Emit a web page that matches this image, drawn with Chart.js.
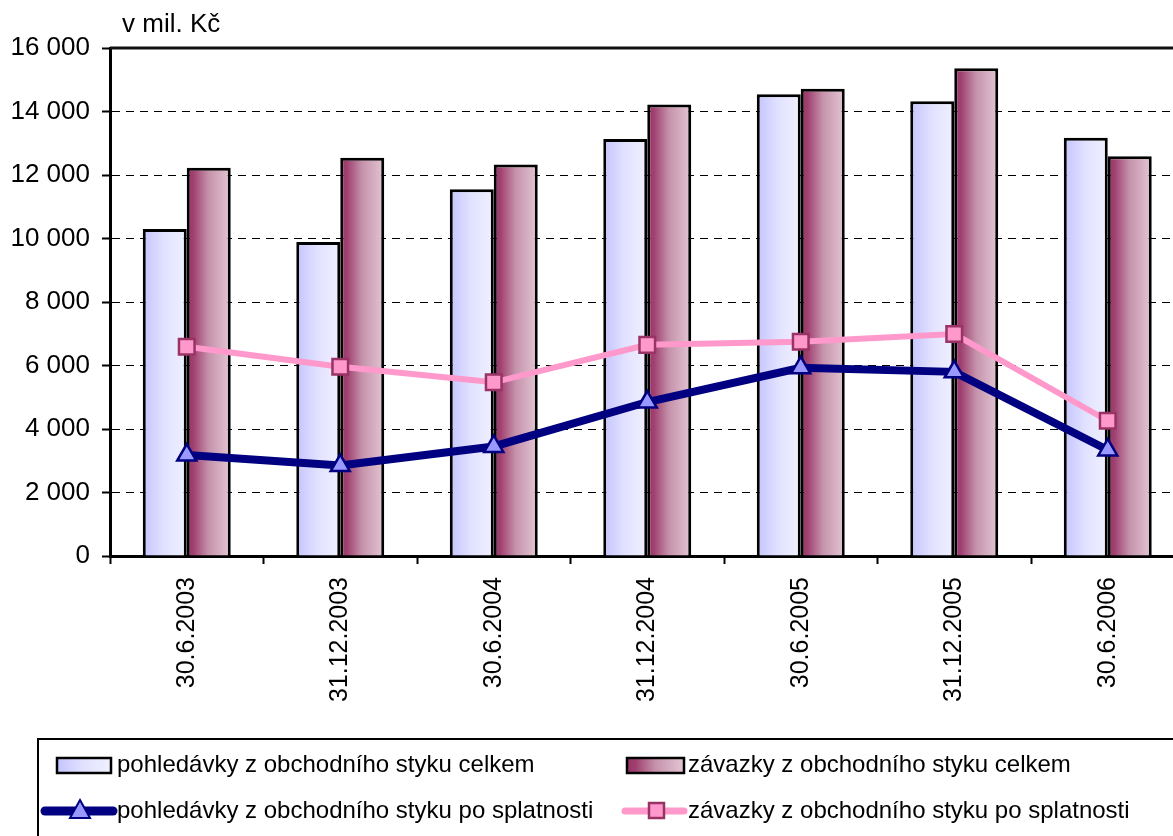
<!DOCTYPE html>
<html>
<head>
<meta charset="utf-8">
<script src="https://cdn.jsdelivr.net/npm/chart.js@4/dist/chart.umd.min.js"></script>
<style>
  html, body { margin: 0; padding: 0; background: #fff; overflow: hidden; }
  #wrap { width: 1200px; height: 836px; }
</style>
</head>
<body>
<div id="wrap"><canvas id="chart" width="1200" height="836"></canvas></div>
<script>
const categories = ['30.6.2003', '31.12.2003', '30.6.2004', '31.12.2004', '30.6.2005', '31.12.2005', '30.6.2006'];
const receivablesTotal = [10300, 9890, 11550, 13130, 14540, 14320, 13170];
const payablesTotal = [12230, 12540, 12330, 14220, 14720, 15360, 12590];
const receivablesOverdue = [3180, 2850, 3450, 4850, 5930, 5800, 3340];
const payablesOverdue = [6590, 5960, 5470, 6650, 6750, 6990, 4260];
const yTicks = [0, 2000, 4000, 6000, 8000, 10000, 12000, 14000, 16000];

const labelsLegend = [
  'pohledávky z obchodního styku celkem',
  'závazky z obchodního styku celkem',
  'pohledávky z obchodního styku po splatnosti',
  'závazky z obchodního styku po splatnosti'
];

const catPct = 0.573;
const font = '"Liberation Sans", Arial, sans-serif';
const lightStops = [[0, '#c4c4ff'], [0.5, '#e2e2ff'], [1, '#f0f0ff']];
const darkStops = [[0, '#993366'], [0.15, '#a04070'], [0.5, '#c593ab'], [1, '#e3c6d4']];

function fmt(v) {
  return String(v).replace(/\B(?=(\d{3})+(?!\d))/g, ' ');
}

// horizontal gradient for one bar, position taken from the x scale
function barGradient(stops, side) {
  return function (c) {
    const chart = c.chart;
    const x = chart.scales.x;
    if (!x || c.dataIndex === undefined) return stops[0][1];
    const center = x.getPixelForValue(c.dataIndex);
    const w = x.width / categories.length * catPct / 2;
    if (!isFinite(center) || !isFinite(w) || w <= 0) return stops[0][1];
    const left = side === 0 ? center - w : center;
    const g = chart.ctx.createLinearGradient(left, 0, left + w, 0);
    stops.forEach(s => g.addColorStop(s[0], s[1]));
    return g;
  };
}

function swatchGradient(ctx, stops, x, w) {
  const g = ctx.createLinearGradient(x, 0, x + w, 0);
  stops.forEach(s => g.addColorStop(s[0], s[1]));
  return g;
}

const frame = {
  id: 'frame',
  afterDraw(chart) {
    const ctx = chart.ctx;
    const a = chart.chartArea;
    ctx.save();
    // plot area top border
    ctx.strokeStyle = '#111';
    ctx.lineWidth = 3;
    ctx.beginPath();
    ctx.moveTo(a.left, a.top);
    ctx.lineTo(a.right, a.top);
    ctx.stroke();
    ctx.beginPath();
    ctx.moveTo(a.right, a.top);
    ctx.lineTo(a.right, a.bottom);
    ctx.stroke();

    // unit label
    ctx.fillStyle = '#000';
    ctx.font = '26px ' + font;
    ctx.textBaseline = 'middle';
    ctx.textAlign = 'left';
    ctx.fillText('v mil. Kč', 122, 25);

    // legend box
    ctx.lineWidth = 2;
    ctx.strokeStyle = '#000';
    ctx.strokeRect(38, 739, 1200, 200);

    ctx.font = '24px ' + font;
    const r1 = 765, r2 = 811;

    // row 1 bar swatches
    ctx.lineWidth = 2.5;
    ctx.fillStyle = swatchGradient(ctx, lightStops, 57, 54);
    ctx.fillRect(57, r1 - 7, 54, 15);
    ctx.strokeRect(57, r1 - 7, 54, 15);
    ctx.fillStyle = swatchGradient(ctx, darkStops, 627, 57);
    ctx.fillRect(627, r1 - 7, 57, 15);
    ctx.strokeRect(627, r1 - 7, 57, 15);

    // row 2 line swatches
    ctx.lineCap = 'round';
    ctx.lineWidth = 9;
    ctx.strokeStyle = '#000080';
    ctx.beginPath(); ctx.moveTo(45, r2); ctx.lineTo(113, r2); ctx.stroke();
    ctx.strokeStyle = '#ff99cc';
    ctx.lineWidth = 7;
    ctx.beginPath(); ctx.moveTo(625, r2); ctx.lineTo(684, r2); ctx.stroke();
    ctx.lineCap = 'butt';

    // triangle marker
    ctx.fillStyle = '#9999ff';
    ctx.strokeStyle = '#000080';
    ctx.lineWidth = 2;
    ctx.beginPath();
    ctx.moveTo(80, r2 - 11);
    ctx.lineTo(90, r2 + 7);
    ctx.lineTo(70, r2 + 7);
    ctx.closePath();
    ctx.fill(); ctx.stroke();

    // square marker
    ctx.fillStyle = '#ff99cc';
    ctx.strokeStyle = '#993366';
    ctx.lineWidth = 2.5;
    ctx.fillRect(649, r2 - 8, 15, 15);
    ctx.strokeRect(649, r2 - 8, 15, 15);

    ctx.fillStyle = '#000';
    ctx.fillText(labelsLegend[0], 117, r1);
    ctx.fillText(labelsLegend[1], 688, r1);
    ctx.fillText(labelsLegend[2], 117, r2);
    ctx.fillText(labelsLegend[3], 688, r2);
    ctx.restore();
  }
};

const data = {
  labels: categories,
  datasets: [
    {
      type: 'line',
      label: labelsLegend[2],
      data: receivablesOverdue,
      borderColor: '#000080',
      borderWidth: 8,
      pointStyle: 'triangle',
      pointRadius: 11,
      pointBackgroundColor: '#9999ff',
      pointBorderColor: '#000080',
      pointBorderWidth: 2.5,
      tension: 0,
      order: 0
    },
    {
      type: 'line',
      label: labelsLegend[3],
      data: payablesOverdue,
      borderColor: '#ff99cc',
      borderWidth: 6,
      pointStyle: 'rect',
      pointRadius: 11,
      pointBackgroundColor: '#ff99cc',
      pointBorderColor: '#993366',
      pointBorderWidth: 2.5,
      tension: 0,
      order: 1
    },
    {
      type: 'bar',
      label: labelsLegend[0],
      data: receivablesTotal,
      backgroundColor: barGradient(lightStops, 0),
      borderColor: '#000',
      borderWidth: 3,
      categoryPercentage: catPct,
      barPercentage: 1,
      order: 2
    },
    {
      type: 'bar',
      label: labelsLegend[1],
      data: payablesTotal,
      backgroundColor: barGradient(darkStops, 1),
      borderColor: '#000',
      borderWidth: 3,
      categoryPercentage: catPct,
      barPercentage: 1,
      order: 2
    }
  ]
};

const config = {
  data: data,
  options: {
    responsive: false,
    animation: false,
    devicePixelRatio: 1,
    layout: { padding: { left: 0, right: 15.5, top: 48, bottom: 100 } },
    plugins: { legend: { display: false }, tooltip: { enabled: false } },
    scales: {
      x: {
        offset: true,
        grid: { offset: true, drawOnChartArea: false, drawTicks: true, tickLength: 8, tickColor: '#000', tickWidth: 2 },
        border: { color: '#000', width: 3 },
        ticks: {
          autoSkip: false, minRotation: 90, maxRotation: 90, padding: 13,
          color: '#000', font: { family: font, size: 25 }
        },
        afterFit(scale) { scale.height = 180; }
      },
      y: {
        min: 0,
        max: 16000,
        afterBuildTicks(scale) { scale.ticks = yTicks.map(v => ({ value: v })); },
        grid: {
          color: c => (c.tick && (c.tick.value === 0 || c.tick.value === 16000)) ? 'rgba(0,0,0,0)' : '#000',
          lineWidth: 1,
          tickColor: '#000',
          tickWidth: 2,
          tickLength: 8,
          tickBorderDash: []
        },
        border: { color: '#000', width: 3, dash: [8, 6] },
        ticks: {
          padding: 12,
          color: '#000',
          font: { family: font, size: 26 },
          callback: v => fmt(v)
        },
        afterFit(scale) { scale.width = 110; }
      }
    }
  },
  plugins: [frame]
};

const chart = new Chart(document.getElementById('chart').getContext('2d'), config);
chart.update();
</script>
</body>
</html>
